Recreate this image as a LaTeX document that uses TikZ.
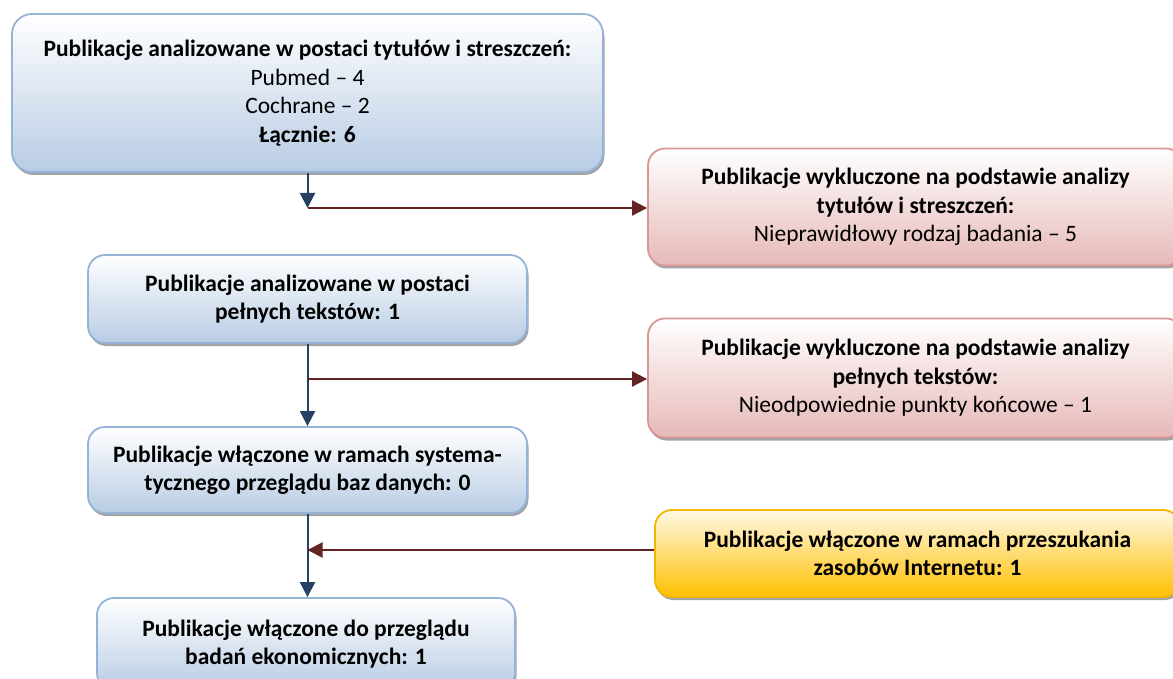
\documentclass[tikz,border=0pt]{standalone}
\usepackage{fontspec}
\setmainfont{Carlito}
\usetikzlibrary{shadows,arrows.meta}
\definecolor{bluefill}{HTML}{B8CCE4}
\definecolor{blueedge}{HTML}{95B3D7}
\definecolor{redfill}{HTML}{E6B9B8}
\definecolor{rededge}{HTML}{D99694}
\definecolor{yelfill}{HTML}{FFC000}
\definecolor{yeltop}{HTML}{FFF8E6}
\definecolor{yeledge}{HTML}{F2B800}
\definecolor{bluearrow}{HTML}{254061}
\definecolor{redarrow}{HTML}{632523}
\tikzset{
  box/.style={rectangle, rounded corners=17pt, line width=1.8pt, align=center,
    inner sep=0pt, font=\fontsize{23.5}{28.5}\selectfont,
    drop shadow={shadow xshift=1.5pt, shadow yshift=-3pt, fill=black!45, opacity=0.8}},
  bluebox/.style={box, draw=blueedge, top color=white, bottom color=bluefill},
  redbox/.style={box, draw=rededge, top color=white, bottom color=redfill},
  yelbox/.style={box, draw=yeledge, top color=yeltop, bottom color=yelfill},
  blueline/.style={draw=bluearrow, line width=2pt, -{Triangle[length=15pt,width=15pt]}},
  redline/.style={draw=redarrow, line width=2pt, -{Triangle[length=15pt,width=15pt]}},
}
\begin{document}
\begin{tikzpicture}[x=1pt,y=1pt]
\useasboundingbox (0,0) rectangle (1173,-679);
\node[bluebox, minimum width=591pt, minimum height=158pt, rounded corners=20pt] (b1) at (307.5,-93)
  {\textbf{Publikacje analizowane w postaci tytułów i streszczeń:}\\Pubmed – 4\\Cochrane – 2\\\textbf{Łącznie: 6}};
\node[redbox, minimum width=535pt, minimum height=117pt] (r1) at (915.5,-207)
  {\textbf{Publikacje wykluczone na podstawie analizy}\\\textbf{tytułów i streszczeń:}\\Nieprawidłowy rodzaj badania – 5};
\node[bluebox, minimum width=439pt, minimum height=88pt] (b2) at (307.5,-299)
  {\textbf{Publikacje analizowane w postaci}\\\textbf{pełnych tekstów: 1}};
\node[redbox, minimum width=535pt, minimum height=119pt] (r2) at (915.5,-378)
  {\textbf{Publikacje wykluczone na podstawie analizy}\\\textbf{pełnych tekstów:}\\Nieodpowiednie punkty końcowe – 1};
\node[bluebox, minimum width=439pt, minimum height=86pt] (b3) at (307.5,-470)
  {\textbf{Publikacje włączone w ramach systema-}\\\textbf{tycznego przeglądu baz danych: 0}};
\node[yelbox, minimum width=525pt, minimum height=87pt] (y1) at (917.5,-553.5)
  {\textbf{Publikacje włączone w ramach przeszukania}\\\textbf{zasobów Internetu: 1}};
\node[bluebox, minimum width=418pt, minimum height=92pt] (b4) at (306,-644)
  {\textbf{Publikacje włączone do przeglądu}\\\textbf{badań ekonomicznych: 1}};
\coordinate (j1) at (b1.south |- 0,-208);
\coordinate (j2) at (b2.south |- 0,-379);
\coordinate (j3) at (b3.south |- 0,-550);
\draw[blueline] (b1.south) -- (j1);
\draw[redline] (j1) -- (j1 -| r1.west);
\draw[blueline] (b2.south) -- (b3.north);
\draw[redline] (j2) -- (j2 -| r2.west);
\draw[blueline] (b3.south) -- (b3.south |- b4.north);
\draw[redline] (j3 -| y1.west) -- (j3);
\end{tikzpicture}
\end{document}
